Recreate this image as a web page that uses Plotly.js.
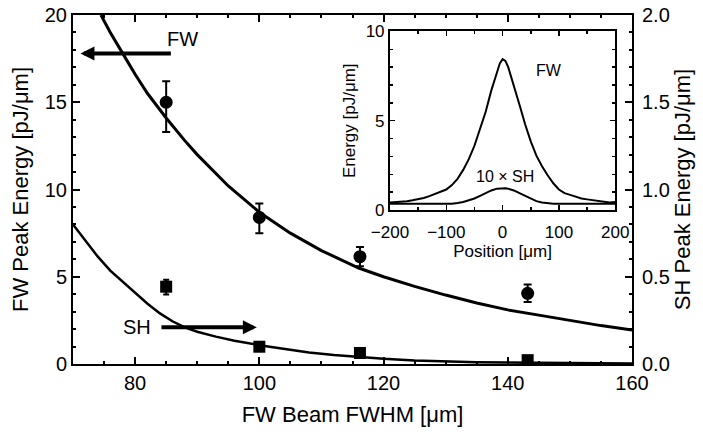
<!DOCTYPE html>
<html>
<head>
<meta charset="utf-8">
<script src="https://cdn.plot.ly/plotly-3.0.1.min.js"></script>
<style>html,body{margin:0;padding:0;background:#fff;}#chart{width:703px;height:435px;}</style>
</head>
<body>
<div id="chart"></div>
<script>
// Main plot: measured peak energies vs FW beam FWHM
var beamFWHM = [85, 100, 116.2, 143.2];
var fwPeak = [15.0, 8.4, 6.15, 4.05];
var fwErrPlus = [1.2, 0.8, 0.55, 0.5];
var fwErrMinus = [1.7, 0.9, 0.55, 0.5];
var shPeak = [0.443, 0.099, 0.063, 0.022];
var shErrPlus = [0.04, 0.01, 0.01, 0.005];
var shErrMinus = [0.045, 0.01, 0.01, 0.005];

// Fit curves
var fwFitX = [74.5, 76, 78, 80, 82, 85, 88, 90, 95, 100, 105, 110, 116, 120, 125, 130, 135, 140, 145, 150, 155, 160];
var fwFitY = [20.0, 19.0, 17.8, 16.6, 15.5, 14.1, 12.8, 12.0, 10.2, 8.7, 7.5, 6.5, 5.5, 5.0, 4.45, 3.95, 3.5, 3.1, 2.8, 2.5, 2.2, 1.95];
var shFitX = [70, 72, 74, 76, 78, 80, 82, 84, 86, 88, 90, 93, 96, 100, 104, 108, 112, 116, 120, 125, 130, 135, 140, 150, 160];
var shFitY = [0.80, 0.705, 0.615, 0.535, 0.47, 0.405, 0.345, 0.29, 0.245, 0.21, 0.185, 0.157, 0.133, 0.108, 0.085, 0.066, 0.051, 0.04, 0.03, 0.02, 0.014, 0.01, 0.008, 0.005, 0.003];

// Inset: energy profiles vs position
var position = [-200, -190, -180, -170, -160, -150, -140, -130, -120, -110, -100, -90, -80, -70, -60, -50, -40, -30, -20, -10, -5, 0, 5, 10, 20, 30, 40, 50, 60, 70, 80, 90, 100, 110, 120, 130, 140, 150, 160, 170, 180, 190, 200];
var fwProfile = [0.42, 0.45, 0.44, 0.5, 0.55, 0.6, 0.68, 0.78, 0.9, 1.0, 1.15, 1.4, 1.75, 2.25, 2.85, 3.6, 4.5, 5.5, 6.7, 7.8, 8.2, 8.45, 8.35, 8.0, 7.0, 5.9, 4.8, 3.85, 3.05, 2.45, 1.95, 1.5, 1.15, 0.95, 0.85, 0.75, 0.65, 0.6, 0.55, 0.5, 0.45, 0.42, 0.45];
var shProfile = [0.35, 0.35, 0.35, 0.35, 0.35, 0.35, 0.35, 0.35, 0.35, 0.35, 0.35, 0.36, 0.4, 0.45, 0.55, 0.65, 0.8, 0.95, 1.1, 1.2, 1.22, 1.23, 1.22, 1.2, 1.1, 0.95, 0.8, 0.62, 0.5, 0.42, 0.37, 0.35, 0.35, 0.35, 0.35, 0.35, 0.35, 0.35, 0.35, 0.35, 0.35, 0.35, 0.35];

var F = 'Liberation Sans, Arial, sans-serif';
var traces = [
  {x: fwFitX, y: fwFitY, mode: 'lines', line: {color: '#000', width: 3}, xaxis: 'x', yaxis: 'y', hoverinfo: 'skip'},
  {x: beamFWHM, y: fwPeak, mode: 'markers', marker: {symbol: 'circle', size: 13, color: '#000'},
   error_y: {type: 'data', symmetric: false, array: fwErrPlus, arrayminus: fwErrMinus, color: '#000', thickness: 2, width: 4},
   xaxis: 'x', yaxis: 'y'},
  {x: shFitX, y: shFitY, mode: 'lines', line: {color: '#000', width: 2.5}, xaxis: 'x', yaxis: 'y2', hoverinfo: 'skip'},
  {x: beamFWHM, y: shPeak, mode: 'markers', marker: {symbol: 'square', size: 12, color: '#000'},
   error_y: {type: 'data', symmetric: false, array: shErrPlus, arrayminus: shErrMinus, color: '#000', thickness: 2, width: 3},
   xaxis: 'x', yaxis: 'y2'},
  {x: position, y: fwProfile, mode: 'lines', line: {color: '#000', width: 2}, xaxis: 'x2', yaxis: 'y3'},
  {x: position, y: shProfile, mode: 'lines', line: {color: '#000', width: 2}, xaxis: 'x2', yaxis: 'y3'}
];

var tickFont = {family: F, size: 20, color: '#000'};
var titleFont = {family: F, size: 22, color: '#000'};
var insetFont = {family: F, size: 17, color: '#000'};

var layout = {
  width: 703, height: 435,
  margin: {l: 73, r: 71, t: 15, b: 71},
  paper_bgcolor: '#fff', plot_bgcolor: '#fff',
  showlegend: false,
  font: {family: F, color: '#000'},
  xaxis: {
    domain: [0, 1], range: [70, 160], dtick: 20, tick0: 0,
    ticks: 'inside', ticklen: 7, tickwidth: 2, tickcolor: '#000',
    minor: {dtick: 5, ticks: 'inside', ticklen: 3, tickwidth: 2, tickcolor: '#000'},
    showline: true, linewidth: 2, linecolor: '#000', mirror: 'ticks',
    showgrid: false, zeroline: false, tickfont: tickFont,
    title: {text: 'FW Beam FWHM [μm]', font: titleFont, standoff: 14}
  },
  yaxis: {
    domain: [0, 1], range: [0, 20], dtick: 5,
    ticks: 'inside', ticklen: 7, tickwidth: 2, tickcolor: '#000',
    minor: {dtick: 1, ticks: 'inside', ticklen: 3, tickwidth: 2, tickcolor: '#000'},
    showline: true, linewidth: 2, linecolor: '#000',
    showgrid: false, zeroline: false, tickfont: tickFont,
    title: {text: 'FW Peak Energy [pJ/μm]', font: titleFont, standoff: 10}
  },
  yaxis2: {
    overlaying: 'y', side: 'right', anchor: 'x', range: [0, 2], dtick: 0.5, tickformat: '.1f',
    ticks: 'inside', ticklen: 7, tickwidth: 2, tickcolor: '#000',
    minor: {dtick: 0.1, ticks: 'inside', ticklen: 3, tickwidth: 2, tickcolor: '#000'},
    showline: true, linewidth: 2, linecolor: '#000',
    showgrid: false, zeroline: false, tickfont: tickFont, ticklabelstandoff: 4,
    title: {text: 'SH Peak Energy [pJ/μm]', font: titleFont, standoff: 6}
  },
  xaxis2: {
    domain: [0.567, 0.970], anchor: 'y3', range: [-200, 200], dtick: 100,
    ticks: 'inside', ticklen: 5, tickwidth: 1.5, tickcolor: '#000',
    minor: {dtick: 50, ticks: 'inside', ticklen: 3, tickwidth: 1.5, tickcolor: '#000'},
    showline: true, linewidth: 2, linecolor: '#000', mirror: 'ticks',
    showgrid: false, zeroline: false, tickfont: insetFont, ticklabelstandoff: 6,
    title: {text: 'Position [μm]', font: insetFont, standoff: 4}
  },
  yaxis3: {
    domain: [0.441, 0.953], anchor: 'x2', range: [0, 10], dtick: 5,
    ticks: 'inside', ticklen: 5, tickwidth: 1.5, tickcolor: '#000',
    minor: {dtick: 1, ticks: 'inside', ticklen: 3, tickwidth: 1.5, tickcolor: '#000'},
    showline: true, linewidth: 2, linecolor: '#000', mirror: 'ticks',
    showgrid: false, zeroline: false, tickfont: insetFont,
    title: {text: 'Energy [pJ/μm]', font: insetFont, standoff: 6}
  },
  annotations: [
    {x: 71.2, y: 17.8, ax: 86, ay: 17.8, xref: 'x', yref: 'y', axref: 'x', ayref: 'y',
     text: '', showarrow: true, arrowhead: 2, arrowsize: 0.7, arrowwidth: 4, arrowcolor: '#000'},
    {x: 87.7, y: 18.6, xref: 'x', yref: 'y', text: 'FW', showarrow: false, font: {family: F, size: 20, color: '#000'}},
    {x: 99.6, y: 0.21, ax: 84, ay: 0.21, xref: 'x', yref: 'y2', axref: 'x', ayref: 'y2',
     text: '', showarrow: true, arrowhead: 2, arrowsize: 0.7, arrowwidth: 4, arrowcolor: '#000'},
    {x: 80.3, y: 2.1, xref: 'x', yref: 'y', text: 'SH', showarrow: false, font: {family: F, size: 20, color: '#000'}},
    {x: 83, y: 7.8, xref: 'x2', yref: 'y3', text: 'FW', showarrow: false, font: {family: F, size: 16, color: '#000'}},
    {x: 4, y: 1.9, xref: 'x2', yref: 'y3', text: '10 × SH', showarrow: false, font: {family: F, size: 16, color: '#000'}}
  ]
};

Plotly.newPlot('chart', traces, layout, {staticPlot: true, displayModeBar: false});
</script>
</body>
</html>
